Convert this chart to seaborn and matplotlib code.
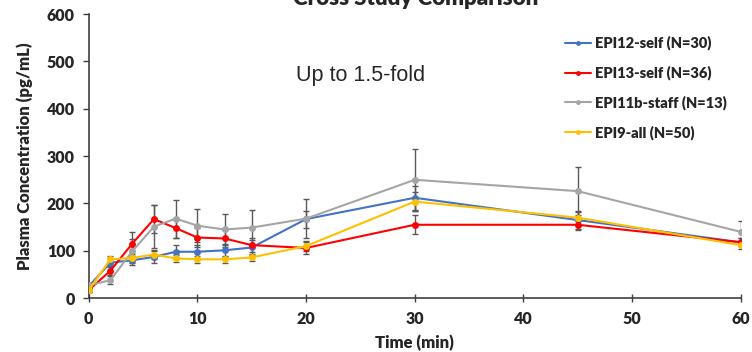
import numpy as np
import pandas as pd
import seaborn as sns
from matplotlib import pyplot as plt

# sampling times (min)
time = [0, 2, 4, 6, 8, 10, 12.5, 15, 20, 30, 45, 60]

series_names = ["EPI12-self (N=30)", "EPI13-self (N=36)",
                "EPI11b-staff (N=13)", "EPI9-all (N=50)"]

# mean plasma concentration (pg/mL)
epi12_mean = [25, 75, 80, 87, 98, 98, 101, 107, 167, 212, 165, 118]
epi13_mean = [17, 58, 115, 167, 148, 128, 126, 112, 106, 155, 155, 118]
epi11b_mean = [27, 38, 99, 151, 168, 153, 145, 149, 168, 250, 226, 140]
epi9_mean = [17, 82, 85, 92, 84, 82, 82, 86, 110, 204, 170, 112]

# standard errors
epi12_err = [4, 10, 10, 12, 15, 15, 14, 15, 18, 25, 18, 8]
epi13_err = [5, 10, 25, 30, 22, 20, 18, 15, 12, 20, 12, 8]
epi11b_err = [5, 8, 25, 45, 40, 35, 33, 38, 42, 65, 50, 22]
epi9_err = [4, 8, 8, 10, 8, 8, 8, 8, 10, 20, 15, 8]

colors = ["#4472C4", "#FF0000", "#A5A5A5", "#FFC000"]

means = [epi12_mean, epi13_mean, epi11b_mean, epi9_mean]
errs = [epi12_err, epi13_err, epi11b_err, epi9_err]

df = pd.concat([
    pd.DataFrame({"Time": time, "Conc": m, "err": e, "Study": n})
    for m, e, n in zip(means, errs, series_names)
], ignore_index=True)

sns.set_style("ticks")
plt.rcParams['font.family'] = ['Lato', 'DejaVu Sans']

fig = plt.figure(figsize=(7.52, 3.52), dpi=100)
ax = fig.add_axes([0.118, 0.153, 0.867, 0.807])

# error bars first so lines sit on top
for name in series_names:
    sub = df[df["Study"] == name]
    ax.errorbar(sub["Time"], sub["Conc"], yerr=sub["err"], fmt='none',
                ecolor="#595959", elinewidth=1, capsize=2, capthick=1, zorder=1)

sns.lineplot(data=df, x="Time", y="Conc", hue="Study", hue_order=series_names,
             palette=colors, marker="o", markersize=5, markeredgewidth=0,
             linewidth=1.5, ax=ax, zorder=3)

ax.set_xlim(0, 60)
ax.set_ylim(0, 600)
ax.set_xticks(range(0, 61, 10))
ax.set_yticks(range(0, 601, 100))
for lab in ax.get_xticklabels() + ax.get_yticklabels():
    lab.set_fontweight("heavy")
    lab.set_fontsize(11.5)
ax.tick_params(axis='x', direction='inout', length=6, width=1, color="#404040", pad=6)
ax.tick_params(axis='y', direction='out', length=4, width=1, color="#404040", pad=6)

ax.set_xlabel("Time (min)", fontsize=12, fontweight="heavy", labelpad=6)
ax.set_ylabel("Plasma Concentration (pg/mL)", fontsize=12, fontweight="heavy", labelpad=10)

for side in ["top", "right"]:
    ax.spines[side].set_visible(False)
for side in ["left", "bottom"]:
    ax.spines[side].set_color("#404040")
    ax.spines[side].set_linewidth(1.2)

leg = ax.legend(loc="upper left", bbox_to_anchor=(0.71, 0.97), frameon=False,
                prop={"weight": "heavy", "size": 10.5}, labelspacing=1.05,
                handlelength=1.8, handletextpad=0.3, markerscale=0.7)

ax.text(25, 470, "Up to 1.5-fold", fontsize=15.5, family="Liberation Sans",
        ha="center", va="center")

fig.text(0.553, 0.986, "Cross Study Comparison", fontsize=16, fontweight="heavy",
         ha="center", va="baseline")

fig.savefig("out.png", dpi=100)
